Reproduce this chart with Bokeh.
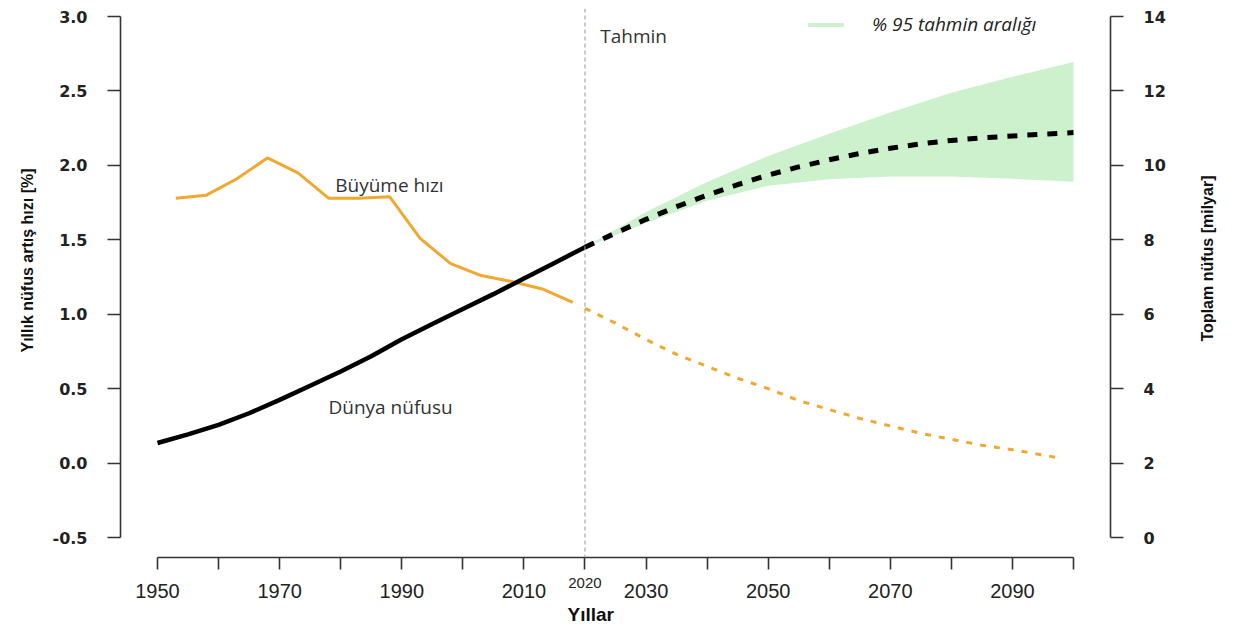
import math
from bokeh.plotting import figure
from bokeh.layouts import row
from bokeh.models import Range1d, LinearAxis, FixedTicker, Span, Label, Legend, LegendItem, Title
from bokeh.embed import file_html
from bokeh.resources import INLINE

# ---------------- data ----------------
pop_years_hist = [1950, 1955, 1960, 1965, 1970, 1975, 1980, 1985, 1990, 1995, 2000, 2005, 2010, 2015, 2020]
pop_hist = [2.54, 2.77, 3.03, 3.34, 3.70, 4.08, 4.46, 4.87, 5.33, 5.74, 6.14, 6.54, 6.96, 7.38, 7.80]

pop_years_proj = [2020, 2025, 2030, 2035, 2040, 2045, 2050, 2055, 2060, 2065, 2070, 2075, 2080, 2085, 2090, 2095, 2100]
pop_proj = [7.80, 8.18, 8.55, 8.89, 9.20, 9.48, 9.74, 9.96, 10.15, 10.32, 10.46, 10.58, 10.67, 10.74, 10.79, 10.84, 10.88]

band_years = [2020, 2030, 2040, 2050, 2060, 2070, 2080, 2090, 2100]
band_lower = [7.80, 8.45, 9.05, 9.45, 9.63, 9.70, 9.70, 9.64, 9.56]
band_upper = [7.80, 8.75, 9.55, 10.25, 10.85, 11.42, 11.95, 12.38, 12.78]

growth_years_hist = [1953, 1958, 1963, 1968, 1973, 1978, 1983, 1988, 1993, 1998, 2003, 2008, 2013, 2018]
growth_hist = [1.78, 1.80, 1.91, 2.05, 1.95, 1.78, 1.78, 1.79, 1.51, 1.34, 1.26, 1.22, 1.17, 1.08]

growth_years_proj = [2020, 2025, 2030, 2035, 2040, 2045, 2050, 2055, 2060, 2065, 2070, 2075, 2080, 2085, 2090, 2097]
growth_proj = [1.04, 0.94, 0.83, 0.73, 0.65, 0.57, 0.50, 0.42, 0.36, 0.30, 0.25, 0.20, 0.16, 0.12, 0.09, 0.04]

x_ticks = list(range(1950, 2101, 10))
x_tick_labels = {1950: "1950", 1970: "1970", 1990: "1990", 2010: "2010",
                 2030: "2030", 2050: "2050", 2070: "2070", 2090: "2090"}
forecast_year = 2020
left_ticks = [-0.5, 0.0, 0.5, 1.0, 1.5, 2.0, 2.5, 3.0]
right_ticks = [0, 2, 4, 6, 8, 10, 12, 14]

ORANGE = "#F0A830"
GREEN = "#CCF1CC"
AXIS = "#333333"
TEXT = "#333333"
TITLE = "#111111"

# ---------------- main figure ----------------
p = figure(width=1176, height=631, output_backend="svg", toolbar_location=None,
           x_range=Range1d(1943.94, 2106.06), y_range=Range1d(-0.634, 3.054),
           min_border_left=120, min_border_right=66, min_border_top=8, min_border_bottom=74,
           x_axis_location=None, y_axis_location=None)
p.extra_y_ranges = {"pop": Range1d(-0.536, 14.215)}
p.grid.grid_line_color = None
p.outline_line_color = None
p.background_fill_color = "white"
p.border_fill_color = "white"


def style_axis(ax):
    ax.axis_line_color = AXIS
    ax.axis_line_width = 1.6
    ax.major_tick_line_color = AXIS
    ax.major_tick_line_width = 1.6
    ax.major_tick_in = 0
    ax.minor_tick_line_color = None
    ax.major_label_text_color = "#222222"


# --- bottom: inner axis (spine, ticks, small "2020") ---
xaxis = LinearAxis(ticker=FixedTicker(ticks=x_ticks), bounds=(1950, 2100))
style_axis(xaxis)
xaxis.major_tick_out = 12
xaxis.major_label_overrides = {t: (str(t) if t == forecast_year else "") for t in x_ticks}
xaxis.major_label_standoff = 8
xaxis.major_label_text_font = "Liberation Sans"
xaxis.major_label_text_font_size = "15px"
xaxis.major_label_text_font_style = "normal"
p.add_layout(xaxis, "below")

# --- bottom: outer axis (year labels) ---
xaxis2 = LinearAxis(ticker=FixedTicker(ticks=x_ticks))
xaxis2.axis_line_color = None
xaxis2.major_tick_line_color = None
xaxis2.minor_tick_line_color = None
xaxis2.major_tick_out = 0
xaxis2.major_tick_in = 0
xaxis2.major_label_overrides = {t: x_tick_labels.get(t, "") for t in x_ticks}
xaxis2.major_label_standoff = -7
xaxis2.major_label_text_color = "#222222"
xaxis2.major_label_text_font = "Liberation Sans"
xaxis2.major_label_text_font_size = "20px"
xaxis2.major_label_text_font_style = "normal"
p.add_layout(xaxis2, "below")

p.add_layout(Title(text="Yıllar", align="left", offset=447, standoff=6,
                   vertical_align="top", text_font="Liberation Sans",
                   text_font_style="bold", text_font_size="19px", text_color=TITLE), "below")

# --- left ---
yaxis = LinearAxis(ticker=FixedTicker(ticks=left_ticks), bounds=(-0.5, 3.0))
style_axis(yaxis)
yaxis.major_label_overrides = {t: f"{t:.1f}" for t in left_ticks}
p.add_layout(yaxis, "left")

p.add_layout(Title(text="Yıllık nüfus artış hızı [%]", align="left", offset=205, standoff=28,
                   vertical_align="bottom", text_font="Liberation Sans",
                   text_font_style="bold", text_font_size="16px", text_color=TITLE), "left")

# --- right ---
y2axis = LinearAxis(y_range_name="pop", ticker=FixedTicker(ticks=right_ticks), bounds=(0, 14))
style_axis(y2axis)
p.add_layout(y2axis, "right")

for ax in (yaxis, y2axis):
    ax.major_tick_out = 13
    ax.major_label_standoff = 20
    ax.major_label_text_font = "DejaVu Sans"
    ax.major_label_text_font_size = "16px"
    ax.major_label_text_font_style = "bold"

# forecast divider
p.add_layout(Span(location=forecast_year, dimension="height", line_color="#999999",
                  line_width=1, line_dash="4 3"))

# band
band = p.varea(x=band_years, y1=band_lower, y2=band_upper, y_range_name="pop",
               fill_color=GREEN, fill_alpha=1.0)

# growth rate
p.line(growth_years_hist, growth_hist, line_color=ORANGE, line_width=3)
p.line(growth_years_proj, growth_proj, line_color=ORANGE, line_width=3, line_dash="6 8")

# population
p.line(pop_years_hist, pop_hist, y_range_name="pop", line_color="black", line_width=4.5)
p.line(pop_years_proj, pop_proj, y_range_name="pop", line_color="black", line_width=5,
       line_dash="10 10")

# legend
legend = Legend(items=[LegendItem(label="% 95 tahmin aralığı", renderers=[band])],
                location=(683, 520), orientation="vertical",
                glyph_width=45, glyph_height=5, label_standoff=24,
                padding=0, margin=0, border_line_alpha=0, background_fill_alpha=0,
                label_text_font="Open Sans", label_text_font_style="italic",
                label_text_font_size="19px", label_text_color="#222222")
p.add_layout(legend)


# in-plot texts
def dlabel(x, y, text):
    p.add_layout(Label(x=x, y=y, text=text, text_align="left", text_baseline="middle",
                       text_font="Open Sans", text_font_size="19px", text_color=TEXT))


dlabel(2022.5, 2.872, "Tahmin")
dlabel(1979.1, 1.87, "Büyüme hızı")
dlabel(1978.0, 0.38, "Dünya nüfusu")

# ---------------- right-side title strip ----------------
p2 = figure(width=60, height=631, output_backend="svg", toolbar_location=None,
            x_range=Range1d(0, 60), y_range=Range1d(0, 631), min_border=0,
            x_axis_location=None, y_axis_location=None)
p2.grid.grid_line_color = None
p2.outline_line_color = None
p2.background_fill_color = "white"
p2.border_fill_color = "white"
p2.add_layout(Label(x=31, y=299, x_units="screen", y_units="screen",
                    text="Toplam nüfus [milyar]", angle=math.pi / 2,
                    text_align="center", text_baseline="middle",
                    text_font="Liberation Sans", text_font_style="bold",
                    text_font_size="16px", text_color=TITLE))

layout = row(p, p2, spacing=0)
open("out.html", "w").write(file_html(layout, INLINE))
